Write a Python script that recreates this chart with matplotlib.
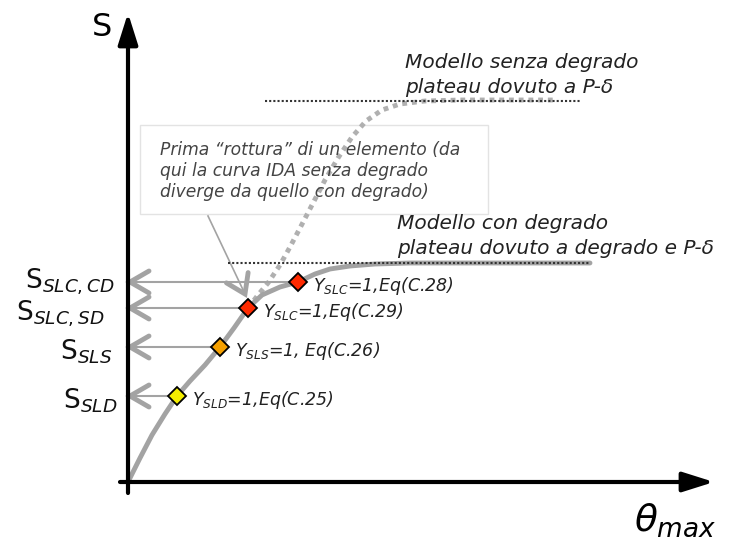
import matplotlib
matplotlib.use('Agg')
import matplotlib.pyplot as plt
import numpy as np
from matplotlib.patches import Rectangle

plt.rcParams['mathtext.fontset'] = 'custom'
plt.rcParams['mathtext.rm'] = 'DejaVu Sans'
plt.rcParams['mathtext.it'] = 'DejaVu Sans:italic'

# curve with degradation (solid)
theta_cd = [0, 0.12, 0.24, 0.37, 0.49, 0.62, 0.77, 0.92, 1.06, 1.20, 1.34, 1.52,
            1.70, 1.87, 2.02, 2.22, 2.47, 2.82, 4.62]
s_cd = [0, 0.24, 0.47, 0.68, 0.86, 1.01, 1.17, 1.35, 1.54, 1.74, 1.87, 1.95,
        2.00, 2.08, 2.13, 2.16, 2.18, 2.19, 2.19]

# curve without degradation (dotted), starts at first element failure
theta_sd = [1.20, 1.30, 1.40, 1.52, 1.62, 1.72, 1.84, 1.97, 2.10, 2.24, 2.38,
            2.54, 2.72, 2.97, 3.32, 4.29]
s_sd = [1.74, 1.87, 1.99, 2.17, 2.35, 2.54, 2.77, 3.02, 3.24, 3.45, 3.61,
        3.72, 3.78, 3.81, 3.82, 3.82]

# plateaus
plateau_cd = 2.19
plateau_cd_range = [1.00, 4.62]
plateau_sd = 3.81
plateau_sd_range = [1.37, 4.52]

# limit states
ls_theta = [0.49, 0.92, 1.20, 1.70]
ls_s = [0.86, 1.35, 1.74, 2.00]
ls_colors = ['#f4ee00', '#f5a000', '#ff2a00', '#ff2a00']
ls_labels = [r'$Y_{SLD}$=1,Eq(C.25)', r'$Y_{SLS}$=1, Eq(C.26)',
             r'$Y_{SLC}$=1,Eq(C.29)', r'$Y_{SLC}$=1,Eq(C.28)']
s_labels = [r'$\mathrm{S}_{SLD}$', r'$\mathrm{S}_{SLS}$',
            r'$\mathrm{S}_{SLC,SD}$', r'$\mathrm{S}_{SLC,CD}$']

gray = '#a3a3a3'

fig = plt.figure(figsize=(7.32, 5.43), dpi=100)
ax = fig.add_axes([0, 0, 1, 1])
ax.set_xlim(-1.28, 6.04)
ax.set_ylim(-0.61, 4.82)
ax.axis('off')


def chevron(ax, tip, direction, size=0.19, half=0.11, lw=3.5, color=gray):
    d = np.array(direction, dtype=float)
    d = d / np.hypot(*d)
    n = np.array([-d[1], d[0]])
    tip = np.array(tip)
    a = tip - size * d + half * n
    b = tip - size * d - half * n
    ax.plot([a[0], tip[0], b[0]], [a[1], tip[1], b[1]], color=color, lw=lw,
            solid_capstyle='round', solid_joinstyle='miter', zorder=3)


# axes arrows
ax.annotate('', xy=(0, 4.69), xytext=(0, -0.11),
            arrowprops=dict(arrowstyle='-|>,head_length=0.95,head_width=0.3',
                            lw=3, color='black', shrinkA=0, shrinkB=0,
                            mutation_scale=20), zorder=5)
ax.annotate('', xy=(5.86, 0), xytext=(-0.08, 0),
            arrowprops=dict(arrowstyle='-|>,head_length=0.95,head_width=0.3',
                            lw=3, color='black', shrinkA=0, shrinkB=0,
                            mutation_scale=20), zorder=5)
ax.text(-0.26, 4.55, 'S', fontsize=23, ha='center', va='center')
ax.text(5.47, -0.38, r'$\theta_{max}$', fontsize=27, ha='center', va='center')

# curves
ax.plot(theta_sd, s_sd, color='#b0b0b0', lw=3.5, linestyle=(0, (1, 1)), zorder=2)
ax.plot(theta_cd, s_cd, color=gray, lw=3.5, zorder=2, solid_capstyle='round')
ax.plot(plateau_cd_range, [plateau_cd, plateau_cd], color='#333333', lw=1.5,
        linestyle=(0, (1, 1)), zorder=3)
ax.plot(plateau_sd_range, [plateau_sd, plateau_sd], color='#333333', lw=1.5,
        linestyle=(0, (1, 1)), zorder=3)

# limit state arrows to S axis
label_x = [-0.11, -0.16, -0.24, -0.13]
label_dy = [-0.05, -0.05, -0.06, 0.0]
for t, s, c, lab, sl, lx, dy in zip(ls_theta, ls_s, ls_colors, ls_labels,
                                    s_labels, label_x, label_dy):
    ax.plot([0.02, t], [s, s], color=gray, lw=1.5, zorder=2)
    chevron(ax, (0.02, s), (-1, 0))
    ax.plot(t, s, marker='D', markersize=9, color=c, markeredgecolor='black',
            markeredgewidth=1.3, zorder=6)
    ax.text(t + 0.15, s - 0.04, lab, fontsize=12.5, style='italic',
            color='#222222', ha='left', va='center')
    ax.text(lx, s + dy, sl, fontsize=19, ha='right', va='center', color='#111111')

# first element failure note
ax.add_patch(Rectangle((0.12, 2.68), 3.48, 0.89, fill=False, edgecolor='#e3e3e3',
                       lw=1, zorder=1))
ax.text(0.32, 3.11, 'Prima \u201crottura\u201d di un elemento (da\n'
        'qui la curva IDA senza degrado\n'
        'diverge da quello con degrado)', fontsize=12.3, style='italic',
        color='#444444', ha='left', va='center', linespacing=1.2)
ax.plot([0.80, ls_theta[2] - 0.03], [2.66, ls_s[2] + 0.14], color=gray, lw=1.2, zorder=2)
chevron(ax, (ls_theta[2] - 0.03, ls_s[2] + 0.14), (1.2 - 0.03 - 0.8, ls_s[2] + 0.14 - 2.66),
        size=0.18, half=0.12)

# model labels
ax.text(2.77, 4.07, 'Modello senza degrado\nplateau dovuto a P-\u03b4',
        fontsize=14.5, style='italic', color='#222222', ha='left', va='center',
        linespacing=1.4)
ax.text(2.69, 2.46, 'Modello con degrado\nplateau dovuto a degrado e P-\u03b4',
        fontsize=14.5, style='italic', color='#222222', ha='left', va='center',
        linespacing=1.4)

fig.savefig('out.png', dpi=100)
